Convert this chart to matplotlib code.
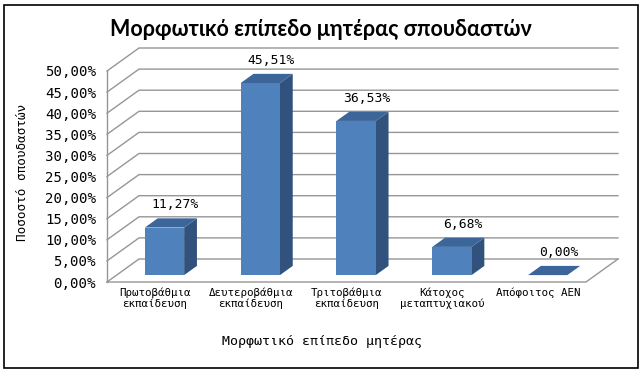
import matplotlib.pyplot as plt
from matplotlib.patches import Polygon, Rectangle

categories = ['Πρωτοβάθμια\nεκπαίδευση', 'Δευτεροβάθμια\nεκπαίδευση',
              'Τριτοβάθμια\nεκπαίδευση', 'Κάτοχος\nμεταπτυχιακού', 'Απόφοιτος ΑΕΝ']
values = [11.27, 45.51, 36.53, 6.68, 0.00]
yticks = [0, 5, 10, 15, 20, 25, 30, 35, 40, 45, 50]

title = 'Μορφωτικό επίπεδο μητέρας σπουδαστών'
xlabel = 'Μορφωτικό επίπεδο μητέρας'
ylabel = 'Ποσοστό σπουδαστών'

mono = 'DejaVu Sans Mono'
grid_c = '#969696'
front_c, top_c, side_c = '#4F81BD', '#3C659A', '#30527D'

# fake 3D: depth of the box in data units, bars sit between f0 and f1 of it
dx, dy = 0.334, 5.45
f0, f1 = 0.3, 0.7
w = 0.41

fig = plt.figure(figsize=(6.43, 3.74), dpi=100)
ax = fig.add_axes([107 / 643, 92 / 374, 511 / 643, 234 / 374])
ymax = yticks[-1]
ax.set_xlim(-0.5, len(values) - 0.5 + dx)
ax.set_ylim(0, ymax + dy)

# side wall + back wall gridlines
for t in yticks:
    ax.plot([-0.5, -0.5 + dx, len(values) - 0.5 + dx], [t, t + dy, t + dy],
            color=grid_c, lw=1, zorder=1, clip_on=False)
ax.plot([-0.5, -0.5], [0, ymax], color=grid_c, lw=1, zorder=1, clip_on=False)
ax.plot([-0.5, len(values) - 0.5, len(values) - 0.5 + dx], [0, 0, dy],
        color=grid_c, lw=1, zorder=1, clip_on=False)

ddx, ddy = (f1 - f0) * dx, (f1 - f0) * dy
for i, v in enumerate(values):
    x0 = i - w / 2 + f0 * dx
    x1 = x0 + w
    yb = f0 * dy
    yt = yb + v
    if v > 0:
        ax.add_patch(Polygon([(x1, yb), (x1 + ddx, yb + ddy), (x1 + ddx, yt + ddy), (x1, yt)],
                             closed=True, fc=side_c, ec='none', zorder=3))
        ax.add_patch(Polygon([(x0, yb), (x1, yb), (x1, yt), (x0, yt)],
                             closed=True, fc=front_c, ec='none', zorder=3))
    ax.add_patch(Polygon([(x0, yt), (x1, yt), (x1 + ddx, yt + ddy), (x0 + ddx, yt + ddy)],
                         closed=True, fc=top_c, ec='none', zorder=3))
    ax.text(i + f0 * dx + 0.115, v + 7.0, f'{v:.2f}%'.replace('.', ','),
            ha='center', va='center', fontsize=9.4, family=mono, zorder=4)

for s in ax.spines.values():
    s.set_visible(False)
ax.set_yticks(yticks)
ax.set_yticklabels([f'{t:.2f}%'.replace('.', ',') for t in yticks], family=mono, fontsize=10.2)
ax.set_xticks(range(len(categories)))
ax.set_xticklabels(categories, family=mono, fontsize=7.8, linespacing=1.1)
ax.tick_params(axis='y', length=0, pad=8)
ax.tick_params(axis='x', length=0, pad=4)

ax.set_xlabel(xlabel, family=mono, fontsize=9.6)
ax.xaxis.set_label_coords((322 - 107) / 511, (282 - 341) / 234)
ax.xaxis.label.set_va('center')
ax.set_ylabel(ylabel, family=mono, fontsize=9.1)
ax.yaxis.set_label_coords((22 - 107) / 511, (282 - 172) / 234)
ax.yaxis.label.set_va('center')

fig.text(321 / 643, 1 - 30 / 374, title, ha='center', va='center',
         fontsize=15.5, fontweight='bold', family='Lato')

fig.patches.append(Rectangle((4 / 643, 6 / 374), 634 / 643, 363 / 374,
                             transform=fig.transFigure, fill=False, ec='black', lw=1.2))

fig.savefig('out.png', dpi=100)
